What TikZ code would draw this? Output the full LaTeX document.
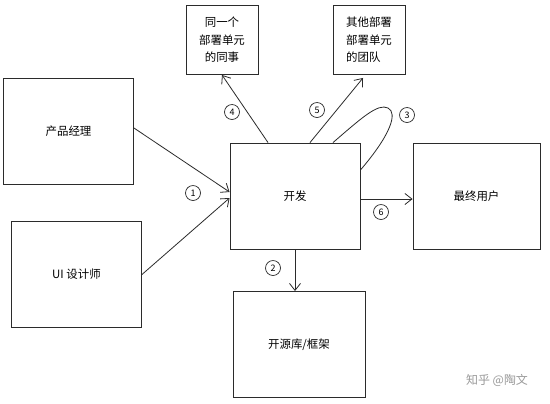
\documentclass[tikz,border=0pt]{standalone}
\usepackage{fontspec}
\setmainfont{Noto Sans CJK SC}
\usepackage{xcolor}
\usetikzlibrary{arrows.meta, positioning, calc}
\definecolor{ink}{HTML}{2B2B2B}
\definecolor{markgray}{HTML}{9A9A9A}

\begin{document}
\begin{tikzpicture}[x=1bp, y=-1bp,
  bigbox/.style={rectangle, draw=ink, line width=0.9bp, minimum width=130bp,
    minimum height=106bp, font=\fontsize{11.5}{14}\selectfont, align=center},
  smallbox/.style={rectangle, draw=ink, line width=0.9bp, minimum width=72bp,
    minimum height=69bp, font=\fontsize{11.5}{17.5}\selectfont, align=center},
  num/.style={circle, draw=ink, line width=0.7bp, minimum size=15bp, inner sep=0pt,
    font=\fontsize{9}{9}\selectfont},
  link/.style={draw=ink, line width=0.8bp},
  arr/.style={link, -{Straight Barb[length=7bp, width=11bp]}},
]
  \useasboundingbox[fill=white] (0,0) rectangle (550,403);

  % boxes
  \node[bigbox] (pm) at (68.5,131) {产品经理};
  \node[bigbox] (ui) at (76.5,274.5) {UI 设计师};
  \node[bigbox] (dev) at (295,196) {开发};
  \node[bigbox, minimum width=127bp] (user) at (476.5,196) {最终用户};
  \node[bigbox, minimum width=132bp] (oss) at (299,344.5) {开源库/框架};
  \node[smallbox] (peer) at (222,40) {同一个\\部署单元\\的同事};
  \node[smallbox, align=left] (other) at (369,40) {其他部署\\部署单元\\的团队};

  % connectors
  \draw[arr] ([yshift=3bp]pm.east) -- ([yshift=4bp]dev.west);
  \draw[arr] (ui.east) -- ([yshift=-2bp]dev.west);
  \draw[arr] (dev.south) -- (dev.south |- oss.north);
  \coordinate (loop) at (388,108);
  \draw[link] ([xshift=38bp]dev.north) .. controls +(29,-25) and +(-10,-5) .. (loop)
    .. controls +(10,5) and +(30,-35) .. ([yshift=26bp]dev.east);
  \draw[arr] ([xshift=-27bp]dev.north) -- (peer.south);
  \draw[arr] ([xshift=15bp]dev.north) -- ([xshift=-6bp, yshift=-3bp]other.south);
  \draw[arr] ([yshift=-3bp]dev.east) -- ([yshift=-3bp]user.west);

  % step numbers
  \node[num] (n1) at (193,193) {1};
  \node[num] (n2) at (273,268) {2};
  \node[num] (n3) at (407,115) {3};
  \node[num] (n4) at (232,112) {4};
  \node[num] (n5) at (317,110) {5};
  \node[num] (n6) at (381,212) {6};

  \node[font=\fontsize{12}{12}\selectfont, text=markgray] (mark) at (497,380) {知乎 @陶文};
\end{tikzpicture}
\end{document}
